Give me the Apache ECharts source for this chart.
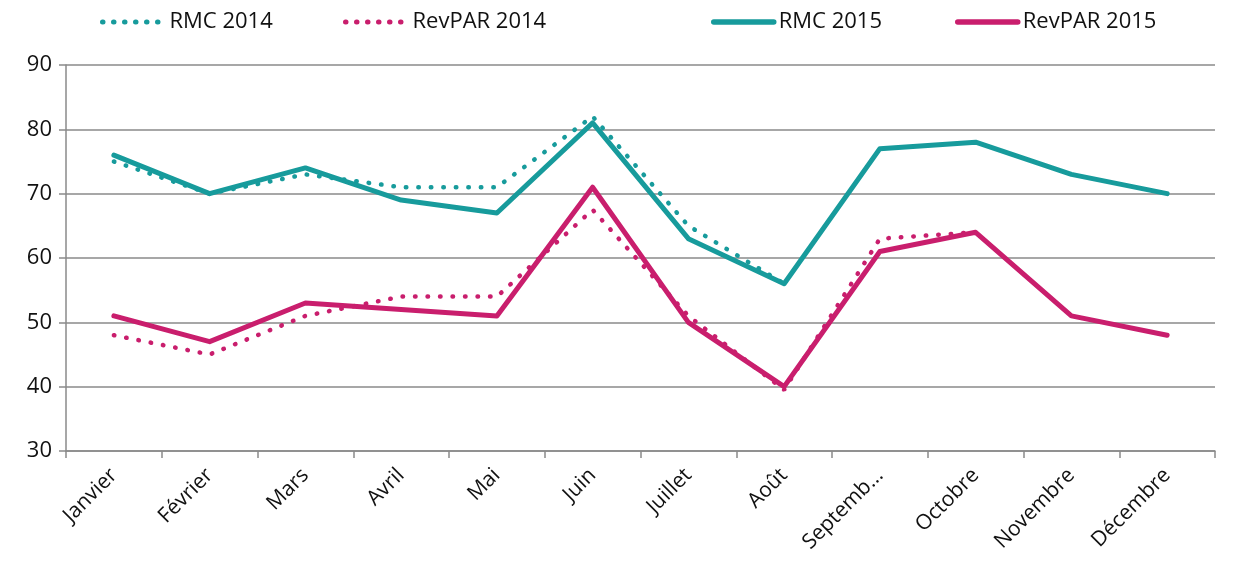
<!DOCTYPE html>
<html>
<head>
<meta charset="utf-8">
<script src="https://cdn.jsdelivr.net/npm/echarts@6/dist/echarts.min.js"></script>
<style>
  html, body { margin: 0; padding: 0; background: #fff; }
  #main { width: 1237px; height: 567px; }
</style>
</head>
<body>
<div id="main"></div>
<script>
// months as printed on the axis
const months = ['Janvier', 'Février', 'Mars', 'Avril', 'Mai', 'Juin', 'Juillet', 'Août', 'Septemb...', 'Octobre', 'Novembre', 'Décembre'];

const rmc2014 = [75, 70, 73, 71, 71, 82, 65, 56, null, null, null, null];
const revpar2014 = [48, 45, 51, 54, 54, 67.5, 51, 39.5, 63, 64, null, null];
const rmc2015 = [76, 70, 74, 69, 67, 81, 63, 56, 77, 78, 73, 70];
const revpar2015 = [51, 47, 53, 52, 51, 71, 50, 40, 61, 64, 51, 48];

const yTicks = { min: 30, max: 90, step: 10 };

const TEAL = '#179b9c';
const PINK = '#c91e6d';
const FONT = 'Open Sans';

const chartDom = document.getElementById('main');
const myChart = echarts.init(chartDom);

const dotted = [0.5, 12];

const legendBase = {
  top: 11,
  padding: 0,
  itemHeight: 14,
  itemGap: 0,
  itemStyle: { opacity: 0 },
  lineStyle: { width: 5.5 },
  textStyle: { fontFamily: FONT, fontSize: 22, color: '#111' }
};
// legend dots a bit tighter than on the plot
const legendDots = { width: 5, type: [0.5, 10.5], cap: 'round' };

const option = {
  animation: false,
  legend: [
    Object.assign({}, legendBase, { left: 100, itemWidth: 62, lineStyle: legendDots, data: ['RMC 2014'] }),
    Object.assign({}, legendBase, { left: 343, itemWidth: 62, lineStyle: legendDots, data: ['RevPAR 2014'] }),
    Object.assign({}, legendBase, { left: 711, itemWidth: 60, data: ['RMC 2015'] }),
    Object.assign({}, legendBase, { left: 955, itemWidth: 60, data: ['RevPAR 2015'] })
  ],
  grid: { left: 66, right: 22, top: 65, bottom: 116 },
  xAxis: {
    type: 'category',
    data: months,
    boundaryGap: true,
    axisLine: { lineStyle: { color: '#8a8a8a', width: 1.5 } },
    axisTick: { show: true, length: 7, lineStyle: { color: '#8a8a8a', width: 1.5 } },
    axisLabel: {
      rotate: 45,
      interval: 0,
      margin: 21,
      fontFamily: FONT,
      fontSize: 21,
      color: '#111'
    }
  },
  yAxis: {
    type: 'value',
    min: yTicks.min,
    max: yTicks.max,
    interval: yTicks.step,
    axisLine: { show: true, lineStyle: { color: '#8a8a8a', width: 1.5 } },
    axisTick: { show: true, length: 7, lineStyle: { color: '#8a8a8a', width: 1.5 } },
    axisLabel: { margin: 14, fontFamily: FONT, fontSize: 22, color: '#111' },
    splitLine: { lineStyle: { color: '#8a8a8a', width: 1.5 } }
  },
  series: [
    {
      name: 'RMC 2014',
      type: 'line',
      data: rmc2014,
      symbol: 'none',
      color: TEAL,
      lineStyle: { width: 4.5, type: dotted, cap: 'round', color: TEAL }
    },
    {
      name: 'RevPAR 2014',
      type: 'line',
      data: revpar2014,
      symbol: 'none',
      color: PINK,
      lineStyle: { width: 4.5, type: dotted, cap: 'round', color: PINK }
    },
    {
      name: 'RMC 2015',
      type: 'line',
      data: rmc2015,
      symbol: 'none',
      color: TEAL,
      lineStyle: { width: 5, cap: 'round', join: 'round', color: TEAL }
    },
    {
      name: 'RevPAR 2015',
      type: 'line',
      data: revpar2015,
      symbol: 'none',
      color: PINK,
      lineStyle: { width: 5, cap: 'round', join: 'round', color: PINK }
    }
  ]
};

option && myChart.setOption(option);
</script>
</body>
</html>
